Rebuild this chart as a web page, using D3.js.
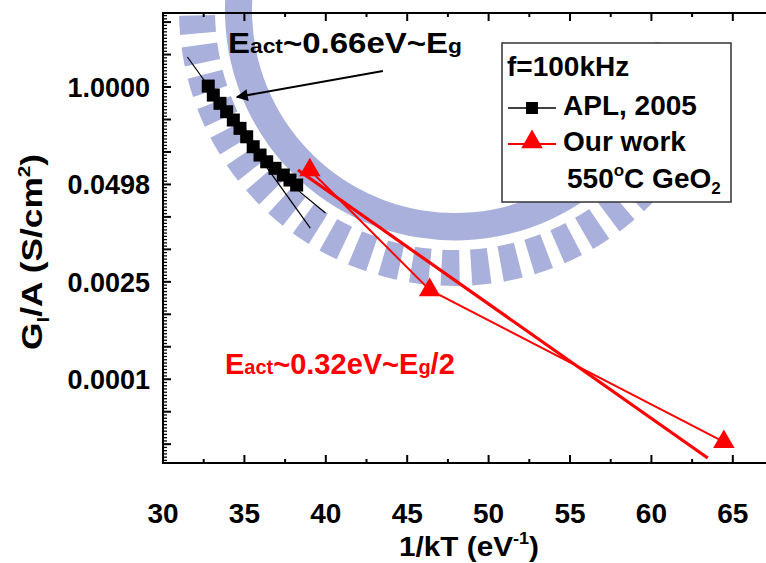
<!DOCTYPE html>
<html>
<head>
<meta charset="utf-8">
<script src="https://cdn.jsdelivr.net/npm/d3@7"></script>
<style>
  html, body { margin: 0; padding: 0; background: #fff; }
  svg { display: block; }
  text { font-family: "Liberation Sans", Arial, Helvetica, sans-serif; font-weight: bold; }
</style>
</head>
<body>
<svg id="chart" width="766" height="563"></svg>
<script>
// ---------------- data ----------------
const aplX = [32.78, 33.09, 33.50, 33.91, 34.32, 34.73, 35.14, 35.54, 35.96, 36.37, 36.88, 37.39, 37.80, 38.21];
const aplG = [1.03, 0.78, 0.605, 0.467, 0.362, 0.280, 0.216, 0.159, 0.123, 0.100, 0.0818, 0.0665, 0.0570, 0.0489];

const ourX = [39.02, 46.38, 64.45];
const ourG = [0.0775, 0.00193, 0.0000179];

// fitted lines (activation-energy guides)
const blackFit1X = [31.50, 39.05];
const blackFit1G = [2.52, 0.0130];
const blackFit2X = [36.54, 39.98];
const blackFit2G = [0.0854, 0.0207];
const redFitX = [38.29, 63.46];
const redFitG = [0.0776, 0.0000109];

// arrow annotation (from, to) in data units
const arrowX = [43.51, 34.54];
const arrowG = [1.64, 0.735];

const xTicks = [30, 35, 40, 45, 50, 55, 60, 65];
const yTickLn = [0, -3, -6, -9];
const yTickLabels = ["1.0000", "0.0498", "0.0025", "0.0001"];

// ---------------- layout ----------------
const W = 766, H = 563;
const mLeft = 163, mTop = 13, mBottom = 463;
const svg = d3.select("#chart");

const x = d3.scaleLinear().domain([30, 67.1]).range([mLeft, 767]);
const y = d3.scaleLog().base(Math.E).domain([Math.exp(-11.58), Math.exp(2.28)]).range([mBottom, mTop]);

// ---------------- watermark (faint emblem) ----------------
const wm = svg.append("g").attr("fill", "#a9b0db");
const cx = 455, cy = 10;
const ring = d3.arc();
wm.append("path")
  .attr("transform", `translate(${cx},${cy})`)
  .attr("d", ring({innerRadius: 203, outerRadius: 230, startAngle: Math.PI * 0.55, endAngle: Math.PI * 1.55}));
for (let a = 115; a <= 272; a += 6.6) {
  const s = (a - 2) * Math.PI / 180, e = (a + 2) * Math.PI / 180;
  wm.append("path")
    .attr("transform", `translate(${cx},${cy})`)
    .attr("d", ring({innerRadius: 240, outerRadius: 276, startAngle: s, endAngle: e}));
}

// ---------------- axes ----------------
const axisG = svg.append("g").attr("stroke", "#000").attr("fill", "none");
axisG.append("line").attr("x1", mLeft).attr("x2", W).attr("y1", mBottom).attr("y2", mBottom).attr("stroke-width", 2);
axisG.append("line").attr("x1", mLeft).attr("x2", W).attr("y1", mTop).attr("y2", mTop).attr("stroke-width", 2);
axisG.append("line").attr("x1", mLeft).attr("x2", mLeft).attr("y1", mTop - 1).attr("y2", mBottom + 1).attr("stroke-width", 2);

const xMinor = d3.range(30, 67.6, 2.5);
xMinor.forEach(v => {
  const major = Math.abs(v % 5) < 1e-6;
  const len = major ? 8 : 4;
  const px = x(v);
  if (px > W) return;
  axisG.append("line").attr("x1", px).attr("x2", px).attr("y1", mBottom).attr("y2", mBottom - len).attr("stroke-width", 2);
  axisG.append("line").attr("x1", px).attr("x2", px).attr("y1", mTop).attr("y2", mTop + len).attr("stroke-width", 2);
});

for (let k = -12; k <= 3; k++) {
  for (let j = 0; j < 10; j++) {
    const ln = k + j / 10;
    if (ln < -11.58 || ln > 2.28) continue;
    const py = y(Math.exp(ln));
    const len = j === 0 ? 8 : 4;
    axisG.append("line").attr("x1", mLeft).attr("x2", mLeft + len).attr("y1", py).attr("y2", py).attr("stroke-width", j === 0 ? 2 : 1.3);
  }
}

svg.append("g").selectAll("text").data(xTicks).join("text")
  .attr("x", d => x(d)).attr("y", 523)
  .attr("text-anchor", "middle").attr("font-size", 28).attr("fill", "#000")
  .text(d => d);

svg.append("g").selectAll("text").data(yTickLn).join("text")
  .attr("x", 150).attr("y", d => y(Math.exp(d)) + 10)
  .attr("text-anchor", "end").attr("font-size", 27).attr("fill", "#000")
  .text((d, i) => yTickLabels[i]);

const xt = svg.append("text").attr("x", 469).attr("y", 556).attr("text-anchor", "middle")
  .attr("font-size", 28).attr("fill", "#000").attr("textLength", 140).attr("lengthAdjust", "spacingAndGlyphs");
xt.append("tspan").text("1/kT (eV");
xt.append("tspan").attr("font-size", 17).attr("dy", -12).text("-1");
xt.append("tspan").attr("dy", 12).text(")");

const yt = svg.append("text").attr("transform", "translate(42,252) rotate(-90)").attr("text-anchor", "middle")
  .attr("font-size", 29).attr("fill", "#000").attr("textLength", 196).attr("lengthAdjust", "spacingAndGlyphs");
yt.append("tspan").text("G");
yt.append("tspan").attr("font-size", 17).attr("dy", 7).text("I");
yt.append("tspan").attr("dy", -7).text("/A (S/cm");
yt.append("tspan").attr("font-size", 17).attr("dy", -12).text("2");
yt.append("tspan").attr("dy", 12).text(")");

// ---------------- fit lines ----------------
const pairLine = (xs, gs) => d3.line()(xs.map((v, i) => [x(v), y(gs[i])]));
svg.append("path").attr("d", pairLine(blackFit1X, blackFit1G)).attr("stroke", "#000").attr("stroke-width", 1.2).attr("fill", "none");
svg.append("path").attr("d", pairLine(blackFit2X, blackFit2G)).attr("stroke", "#000").attr("stroke-width", 1.2).attr("fill", "none");
svg.append("path").attr("d", pairLine(redFitX, redFitG)).attr("stroke", "#ff0000").attr("stroke-width", 3.2).attr("fill", "none");

// ---------------- series ----------------
svg.append("path").attr("d", pairLine(aplX, aplG)).attr("stroke", "#000").attr("stroke-width", 1.5).attr("fill", "none");
svg.append("g").selectAll("rect").data(aplX).join("rect")
  .attr("x", (d, i) => x(d) - 6.5).attr("y", (d, i) => y(aplG[i]) - 6.5)
  .attr("width", 13).attr("height", 13).attr("fill", "#000");

svg.append("path").attr("d", pairLine(ourX, ourG)).attr("stroke", "#ff0000").attr("stroke-width", 2).attr("fill", "none");
const tri = d3.symbol().type(d3.symbolTriangle).size(200);
svg.append("g").selectAll("path").data(ourX).join("path")
  .attr("transform", (d, i) => `translate(${x(d)},${y(ourG[i])})`)
  .attr("d", tri).attr("fill", "#ff0000");

// ---------------- annotations ----------------
svg.append("defs").append("marker").attr("id", "ah").attr("viewBox", "0 0 10 10")
  .attr("refX", 9).attr("refY", 5).attr("markerWidth", 7).attr("markerHeight", 6).attr("orient", "auto")
  .append("path").attr("d", "M0,0 L10,5 L0,10 z").attr("fill", "#000");
svg.append("path").attr("d", pairLine(arrowX, arrowG)).attr("stroke", "#000").attr("stroke-width", 2)
  .attr("fill", "none").attr("marker-end", "url(#ah)");

const t1 = svg.append("text").attr("x", 228).attr("y", 53).attr("font-size", 29).attr("fill", "#000")
  .attr("textLength", 234).attr("lengthAdjust", "spacingAndGlyphs");
t1.append("tspan").text("E");
t1.append("tspan").attr("font-size", 20).text("act");
t1.append("tspan").text("~0.66eV~E");
t1.append("tspan").attr("font-size", 20).text("g");

const t2 = svg.append("text").attr("x", 225).attr("y", 374).attr("font-size", 29).attr("fill", "#ff0000");
t2.append("tspan").text("E");
t2.append("tspan").attr("font-size", 20).text("act");
t2.append("tspan").text("~0.32eV~E");
t2.append("tspan").attr("font-size", 20).text("g");
t2.append("tspan").text("/2");

// ---------------- legend ----------------
const lg = svg.append("g");
lg.append("rect").attr("x", 502).attr("y", 43).attr("width", 229).attr("height", 159)
  .attr("fill", "#fff").attr("stroke", "#333").attr("stroke-width", 1.5);
lg.append("text").attr("x", 507).attr("y", 76).attr("font-size", 28).text("f=100kHz");
lg.append("line").attr("x1", 508).attr("x2", 556).attr("y1", 108).attr("y2", 108).attr("stroke", "#000").attr("stroke-width", 1.5);
lg.append("rect").attr("x", 526).attr("y", 102).attr("width", 12).attr("height", 12).attr("fill", "#000");
lg.append("text").attr("x", 563).attr("y", 115).attr("font-size", 28).text("APL, 2005");
lg.append("line").attr("x1", 508).attr("x2", 556).attr("y1", 144).attr("y2", 144).attr("stroke", "#ff0000").attr("stroke-width", 2);
lg.append("path").attr("transform", "translate(532,142)").attr("d", tri).attr("fill", "#ff0000");
lg.append("text").attr("x", 563).attr("y", 151).attr("font-size", 28).text("Our work");
const l4 = lg.append("text").attr("x", 567).attr("y", 188).attr("font-size", 28);
l4.append("tspan").text("550");
l4.append("tspan").attr("font-size", 17).attr("dy", -12).text("o");
l4.append("tspan").attr("dy", 12).text("C GeO");
l4.append("tspan").attr("font-size", 17).attr("dy", 6).text("2");
</script>
</body>
</html>
